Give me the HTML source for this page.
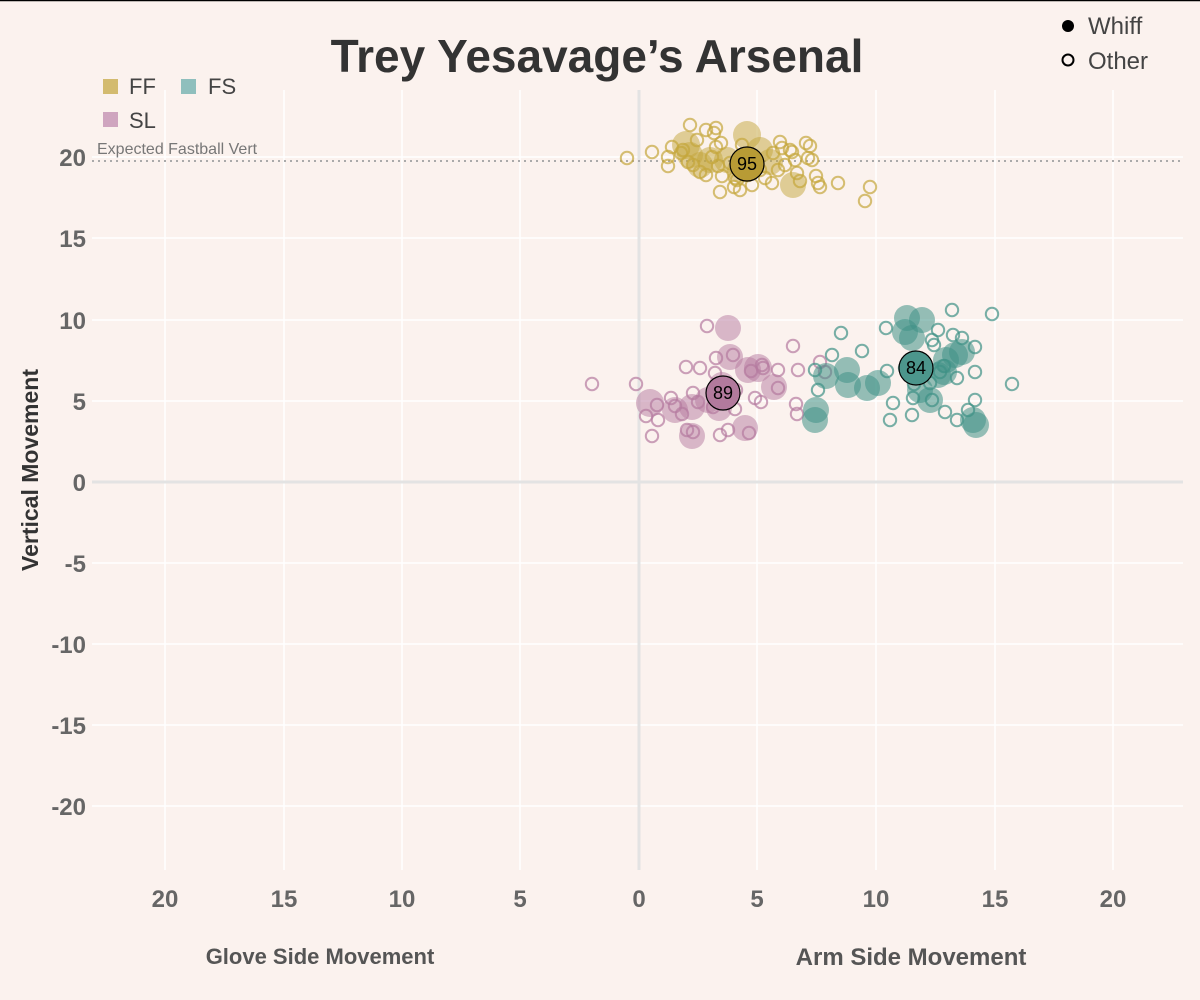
<!DOCTYPE html>
<html><head><meta charset="utf-8"><style>
html,body{margin:0;padding:0;background:#fbf2ee;}
svg{display:block;font-family:"Liberation Sans",sans-serif;}
</style></head><body>
<svg width="1200" height="1000" viewBox="0 0 1200 1000">
<rect width="1200" height="1000" fill="#fbf2ee"/>
<line x1="0" y1="0.5" x2="1200" y2="0.5" stroke="#000" stroke-width="1.5"/>
<g stroke="#ffffff" stroke-width="1.5">
<line x1="165" y1="90" x2="165" y2="870"/><line x1="284" y1="90" x2="284" y2="870"/><line x1="402" y1="90" x2="402" y2="870"/><line x1="520" y1="90" x2="520" y2="870"/><line x1="757" y1="90" x2="757" y2="870"/><line x1="876" y1="90" x2="876" y2="870"/><line x1="995" y1="90" x2="995" y2="870"/><line x1="1113" y1="90" x2="1113" y2="870"/>
<line x1="92" y1="157" x2="1183" y2="157"/><line x1="92" y1="238" x2="1183" y2="238"/><line x1="92" y1="320" x2="1183" y2="320"/><line x1="92" y1="401" x2="1183" y2="401"/><line x1="92" y1="563" x2="1183" y2="563"/><line x1="92" y1="644" x2="1183" y2="644"/><line x1="92" y1="725" x2="1183" y2="725"/><line x1="92" y1="806" x2="1183" y2="806"/>
</g>
<line x1="639" y1="90" x2="639" y2="870" stroke="#e3e3e3" stroke-width="3"/>
<line x1="92" y1="482" x2="1183" y2="482" stroke="#e3e3e3" stroke-width="3"/>
<line x1="92" y1="161" x2="1183" y2="161" stroke="#aaa" stroke-width="2" stroke-dasharray="2,4"/>
<text x="97" y="154" font-size="16" fill="#777">Expected Fastball Vert</text>
<g font-size="24" font-weight="bold" fill="#666" text-anchor="end">
<text x="86" y="166">20</text><text x="86" y="247">15</text><text x="86" y="329">10</text><text x="86" y="410">5</text><text x="86" y="491">0</text><text x="86" y="572">-5</text><text x="86" y="653">-10</text><text x="86" y="734">-15</text><text x="86" y="815">-20</text>
</g>
<g font-size="24" font-weight="bold" fill="#666" text-anchor="middle">
<text x="165" y="907">20</text><text x="284" y="907">15</text><text x="402" y="907">10</text><text x="520" y="907">5</text><text x="639" y="907">0</text><text x="757" y="907">5</text><text x="876" y="907">10</text><text x="995" y="907">15</text><text x="1113" y="907">20</text>
</g>
<text transform="translate(38,470) rotate(-90)" font-size="23" font-weight="bold" fill="#333" text-anchor="middle">Vertical Movement</text>
<text x="320" y="964" font-size="22" font-weight="bold" fill="#555" text-anchor="middle">Glove Side Movement</text>
<text x="911" y="965" font-size="24" font-weight="bold" fill="#555" text-anchor="middle">Arm Side Movement</text>
<text x="597" y="72" font-size="46" font-weight="bold" fill="#333" text-anchor="middle">Trey Yesavage’s Arsenal</text>
<rect x="103" y="79" width="15" height="15" fill="#d3bb6f"/><text x="129" y="94" font-size="22" fill="#444">FF</text>
<rect x="181" y="79" width="15" height="15" fill="#8fbfbd"/><text x="208" y="94" font-size="22" fill="#444">FS</text>
<rect x="103" y="112" width="15" height="15" fill="#cfa5bf"/><text x="129" y="128" font-size="22" fill="#444">SL</text>
<circle cx="1068" cy="26" r="6" fill="#000"/><text x="1088" y="34" font-size="24" fill="#444">Whiff</text>
<circle cx="1068" cy="60" r="5.5" fill="none" stroke="#000" stroke-width="2"/><text x="1088" y="69" font-size="24" fill="#444">Other</text>
<g fill="#c4a63c" fill-opacity="0.5">
<circle cx="686" cy="145" r="14"/><circle cx="747" cy="135" r="14"/><circle cx="700" cy="165" r="13"/><circle cx="727" cy="160" r="13"/><circle cx="760" cy="150" r="13"/><circle cx="793" cy="185" r="13"/><circle cx="710" cy="160" r="13"/><circle cx="740" cy="170" r="13"/><circle cx="770" cy="162" r="13"/><circle cx="690" cy="155" r="13"/>
</g>
<g fill="none" stroke="#c4a63c" stroke-opacity="0.7" stroke-width="2">
<circle cx="627" cy="158" r="6.2"/><circle cx="652" cy="152" r="6.2"/><circle cx="668" cy="157" r="6.2"/><circle cx="668" cy="166" r="6.2"/><circle cx="672" cy="147" r="6.2"/><circle cx="683" cy="150" r="6.2"/><circle cx="688" cy="162" r="6.2"/><circle cx="693" cy="165" r="6.2"/><circle cx="697" cy="140" r="6.2"/><circle cx="706" cy="130" r="6.2"/><circle cx="714" cy="133" r="6.2"/><circle cx="716" cy="147" r="6.2"/><circle cx="721" cy="143" r="6.2"/><circle cx="706" cy="175" r="6.2"/><circle cx="700" cy="172" r="6.2"/><circle cx="718" cy="166" r="6.2"/><circle cx="722" cy="176" r="6.2"/><circle cx="735" cy="178" r="6.2"/><circle cx="740" cy="190" r="6.2"/><circle cx="737" cy="180" r="6.2"/><circle cx="780" cy="142" r="6.2"/><circle cx="782" cy="148" r="6.2"/><circle cx="792" cy="152" r="6.2"/><circle cx="797" cy="173" r="6.2"/><circle cx="806" cy="143" r="6.2"/><circle cx="810" cy="146" r="6.2"/><circle cx="800" cy="181" r="6.2"/><circle cx="820" cy="187" r="6.2"/><circle cx="816" cy="176" r="6.2"/><circle cx="865" cy="201" r="6.2"/><circle cx="870" cy="187" r="6.2"/><circle cx="838" cy="183" r="6.2"/><circle cx="818" cy="183" r="6.2"/><circle cx="772" cy="183" r="6.2"/><circle cx="765" cy="178" r="6.2"/><circle cx="760" cy="170" r="6.2"/><circle cx="748" cy="175" r="6.2"/><circle cx="730" cy="163" r="6.2"/><circle cx="712" cy="157" r="6.2"/><circle cx="690" cy="125" r="6.2"/><circle cx="716" cy="128" r="6.2"/><circle cx="785" cy="165" r="6.2"/><circle cx="790" cy="150" r="6.2"/><circle cx="808" cy="158" r="6.2"/><circle cx="773" cy="153" r="6.2"/><circle cx="681" cy="153" r="6.2"/><circle cx="742" cy="145" r="6.2"/><circle cx="795" cy="160" r="6.2"/><circle cx="812" cy="160" r="6.2"/><circle cx="778" cy="170" r="6.2"/><circle cx="752" cy="185" r="6.2"/><circle cx="720" cy="192" r="6.2"/><circle cx="734" cy="187" r="6.2"/>
</g>
<g fill="#b57a9f" fill-opacity="0.5">
<circle cx="728" cy="328" r="13"/><circle cx="730" cy="357" r="13"/><circle cx="758" cy="368" r="14"/><circle cx="748" cy="370" r="13"/><circle cx="650" cy="403" r="14"/><circle cx="675" cy="410" r="13"/><circle cx="692" cy="436" r="13"/><circle cx="692" cy="407" r="13"/><circle cx="708" cy="400" r="13"/><circle cx="745" cy="428" r="13"/><circle cx="774" cy="387" r="13"/><circle cx="719" cy="408" r="13"/><circle cx="722" cy="385" r="13"/>
</g>
<g fill="none" stroke="#b57a9f" stroke-opacity="0.7" stroke-width="2">
<circle cx="592" cy="384" r="6.2"/><circle cx="636" cy="384" r="6.2"/><circle cx="707" cy="326" r="6.2"/><circle cx="686" cy="367" r="6.2"/><circle cx="700" cy="368" r="6.2"/><circle cx="716" cy="358" r="6.2"/><circle cx="733" cy="355" r="6.2"/><circle cx="715" cy="373" r="6.2"/><circle cx="714" cy="390" r="6.2"/><circle cx="713" cy="407" r="6.2"/><circle cx="693" cy="393" r="6.2"/><circle cx="682" cy="414" r="6.2"/><circle cx="658" cy="420" r="6.2"/><circle cx="671" cy="398" r="6.2"/><circle cx="652" cy="436" r="6.2"/><circle cx="720" cy="435" r="6.2"/><circle cx="735" cy="409" r="6.2"/><circle cx="755" cy="398" r="6.2"/><circle cx="761" cy="402" r="6.2"/><circle cx="762" cy="365" r="6.2"/><circle cx="778" cy="370" r="6.2"/><circle cx="763" cy="368" r="6.2"/><circle cx="793" cy="346" r="6.2"/><circle cx="798" cy="370" r="6.2"/><circle cx="778" cy="388" r="6.2"/><circle cx="796" cy="404" r="6.2"/><circle cx="797" cy="414" r="6.2"/><circle cx="749" cy="433" r="6.2"/><circle cx="657" cy="405" r="6.2"/><circle cx="698" cy="402" r="6.2"/><circle cx="751" cy="371" r="6.2"/><circle cx="736" cy="390" r="6.2"/><circle cx="675" cy="406" r="6.2"/><circle cx="820" cy="362" r="6.2"/><circle cx="825" cy="372" r="6.2"/><circle cx="646" cy="416" r="6.2"/><circle cx="687" cy="430" r="6.2"/><circle cx="693" cy="432" r="6.2"/><circle cx="728" cy="430" r="6.2"/>
</g>
<g fill="#3f9186" fill-opacity="0.55">
<circle cx="816" cy="410" r="13"/><circle cx="815" cy="420" r="13"/><circle cx="826" cy="376" r="13"/><circle cx="847" cy="370" r="13"/><circle cx="848" cy="385" r="13"/><circle cx="867" cy="388" r="13"/><circle cx="878" cy="383" r="13"/><circle cx="907" cy="318" r="13"/><circle cx="922" cy="320" r="13"/><circle cx="905" cy="332" r="13"/><circle cx="912" cy="338" r="13"/><circle cx="938" cy="375" r="13"/><circle cx="955" cy="355" r="13"/><circle cx="962" cy="352" r="13"/><circle cx="944" cy="372" r="13"/><circle cx="946" cy="360" r="13"/><circle cx="930" cy="400" r="13"/><circle cx="920" cy="390" r="13"/><circle cx="976" cy="425" r="13"/><circle cx="973" cy="420" r="13"/>
</g>
<g fill="none" stroke="#3f9186" stroke-opacity="0.7" stroke-width="2">
<circle cx="841" cy="333" r="6.2"/><circle cx="832" cy="355" r="6.2"/><circle cx="862" cy="351" r="6.2"/><circle cx="886" cy="328" r="6.2"/><circle cx="952" cy="310" r="6.2"/><circle cx="992" cy="314" r="6.2"/><circle cx="975" cy="347" r="6.2"/><circle cx="953" cy="335" r="6.2"/><circle cx="934" cy="345" r="6.2"/><circle cx="920" cy="370" r="6.2"/><circle cx="893" cy="403" r="6.2"/><circle cx="913" cy="398" r="6.2"/><circle cx="887" cy="371" r="6.2"/><circle cx="905" cy="368" r="6.2"/><circle cx="1012" cy="384" r="6.2"/><circle cx="957" cy="420" r="6.2"/><circle cx="968" cy="410" r="6.2"/><circle cx="932" cy="400" r="6.2"/><circle cx="945" cy="412" r="6.2"/><circle cx="890" cy="420" r="6.2"/><circle cx="912" cy="415" r="6.2"/><circle cx="914" cy="384" r="6.2"/><circle cx="940" cy="372" r="6.2"/><circle cx="944" cy="366" r="6.2"/><circle cx="938" cy="330" r="6.2"/><circle cx="930" cy="383" r="6.2"/><circle cx="957" cy="378" r="6.2"/><circle cx="975" cy="372" r="6.2"/><circle cx="815" cy="370" r="6.2"/><circle cx="818" cy="390" r="6.2"/><circle cx="975" cy="400" r="6.2"/><circle cx="932" cy="340" r="6.2"/><circle cx="962" cy="338" r="6.2"/>
</g>
<g stroke="#000" stroke-width="1.2">
<circle cx="747" cy="164" r="17" fill="#b89b35"/>
<circle cx="723" cy="393" r="17" fill="#b27a9d"/>
<circle cx="916" cy="368" r="17" fill="#4c968c"/>
</g>
<g font-size="18" text-anchor="middle" fill="#000">
<text x="747" y="170">95</text><text x="723" y="399">89</text><text x="916" y="374">84</text>
</g>
</svg>
</body></html>
